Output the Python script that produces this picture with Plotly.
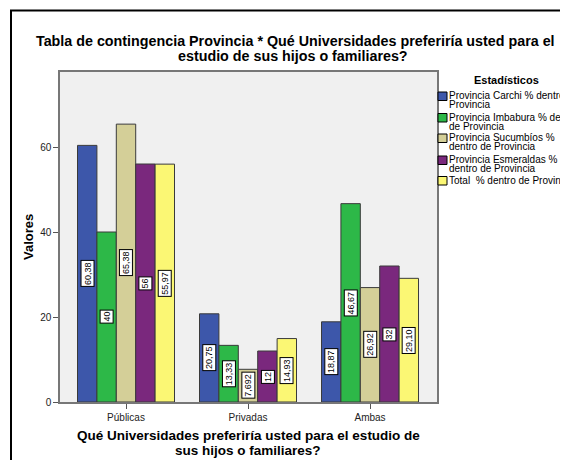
import plotly.graph_objects as go

# ---------------- data ----------------
categories = ["Públicas", "Privadas", "Ambas"]
series_names = [
    "Provincia Carchi % dentro de Provincia",
    "Provincia Imbabura % dentro de Provincia",
    "Provincia Sucumbíos % dentro de Provincia",
    "Provincia Esmeraldas % dentro de Provincia",
    "Total  % dentro de Provincia",
]
carchi = [60.38, 20.75, 18.87]
imbabura = [40, 13.33, 46.67]
sucumbios = [65.38, 7.692, 26.92]
esmeraldas = [56, 12, 32]
total = [55.97, 14.93, 29.10]
carchi_lbl = ["60,38", "20,75", "18,87"]
imbabura_lbl = ["40", "13,33", "46,67"]
sucumbios_lbl = ["65,38", "7,692", "26,92"]
esmeraldas_lbl = ["56", "12", "32"]
total_lbl = ["55,97", "14,93", "29,10"]
legend_lines = [
    ["Provincia Carchi % dentro de", "Provincia"],
    ["Provincia Imbabura % dentro", "de Provincia"],
    ["Provincia Sucumbíos %", "dentro de Provincia"],
    ["Provincia Esmeraldas %", "dentro de Provincia"],
    ["Total  % dentro de Provincia"],
]
y_ticks = [0, 20, 40, 60]

values = [carchi, imbabura, sucumbios, esmeraldas, total]
labels = [carchi_lbl, imbabura_lbl, sucumbios_lbl, esmeraldas_lbl, total_lbl]
colors = ["#3D57AA", "#2DB848", "#D4CF98", "#7A287D", "#FBF774"]

# ---------------- geometry (window pixels) ----------------
WIN_W, WIN_H = 568, 460
OFF = 8  # page body margin
W, H = WIN_W - OFF, WIN_H - OFF
L, R, T, B = 60, 437, 72, 402
FONT = "Liberation Sans, Arial, sans-serif"
bargap = 0.205
nser = len(values)
bw = (1 - bargap) / nser


def px_x(p):
    return (p - L) / (R - L)


def px_y(p):
    return (B - p) / (B - T)


fig = go.Figure()
for name, vals, col in zip(series_names, values, colors):
    fig.add_trace(go.Bar(
        x=categories, y=vals, name=name,
        marker=dict(color=col, line=dict(color="#3a3a3a", width=1)),
        showlegend=False, hoverinfo="skip",
    ))

annotations = []
# value labels
for j, (vals, lbls) in enumerate(zip(values, labels)):
    for i, (v, t) in enumerate(zip(vals, lbls)):
        annotations.append(dict(
            x=i + (j - (nser - 1) / 2) * bw, y=v / 2, xref="x", yref="y",
            text=t, showarrow=False, textangle=-90,
            font=dict(family=FONT, size=9, color="black"),
            bgcolor="white", bordercolor="black", borderwidth=1, borderpad=1,
        ))

# title
for txt, yy, xx in [
    ("Tabla de contingencia Provincia * Qué Universidades preferiría usted para el", 41.5, 295.5),
    ("estudio de sus hijos o familiares?", 56, 293),
]:
    annotations.append(dict(
        x=px_x(xx), y=px_y(yy), xref="paper", yref="paper", text="<b>" + txt + "</b>",
        showarrow=False, xanchor="center", yanchor="middle",
        font=dict(family=FONT, size=14.3, color="black"),
    ))

# x-axis title
for txt, yy in [("Qué Universidades preferiría usted para el estudio de", 435.5),
                ("sus hijos o familiares?", 450)]:
    annotations.append(dict(
        x=px_x(248), y=px_y(yy), xref="paper", yref="paper", text="<b>" + txt + "</b>",
        showarrow=False, xanchor="center", yanchor="middle",
        font=dict(family=FONT, size=13.5, color="black"),
    ))

# y-axis title
annotations.append(dict(
    x=px_x(28), y=px_y(237), xref="paper", yref="paper", text="<b>Valores</b>",
    showarrow=False, textangle=-90, xanchor="center", yanchor="middle",
    font=dict(family=FONT, size=13, color="black"),
))

# legend title
annotations.append(dict(
    x=px_x(506), y=px_y(80), xref="paper", yref="paper", text="<b>Estadísticos</b>",
    showarrow=False, xanchor="center", yanchor="middle",
    font=dict(family=FONT, size=11, color="black"),
))

shapes = []
line1_y = [95.5, 117, 137.5, 159.5, 180]
for lines, col, y1 in zip(legend_lines, colors, line1_y):
    for k, ln in enumerate(lines):
        annotations.append(dict(
            x=px_x(447.5), y=px_y(y1 + k * 9), xref="paper", yref="paper", text=ln,
            showarrow=False, xanchor="left", yanchor="middle",
            font=dict(family=FONT, size=10, color="black"),
        ))
    shapes.append(dict(
        type="rect", xref="paper", yref="paper",
        x0=px_x(438), x1=px_x(447), y0=px_y(y1 + 5), y1=px_y(y1 - 3.5),
        fillcolor=col, line=dict(color="black", width=1),
    ))

# outer frame
shapes.append(dict(
    type="rect", xref="paper", yref="paper",
    x0=px_x(11), x1=px_x(700), y0=px_y(600), y1=px_y(10.5),
    line=dict(color="black", width=2), fillcolor="rgba(0,0,0,0)", layer="below",
))

fig.update_layout(
    width=W, height=H,
    margin=dict(l=L - OFF, r=W - (R - OFF), t=T - OFF, b=H - (B - OFF), pad=0),
    paper_bgcolor="white", plot_bgcolor="#F0F0F0",
    barmode="group", bargap=bargap, bargroupgap=0,
    showlegend=False,
    annotations=annotations, shapes=shapes,
    font=dict(family=FONT, size=10, color="#222"),
)
fig.update_xaxes(
    type="category", range=[-0.541, 2.549],
    showline=True, linecolor="#777", linewidth=1.5, mirror=True,
    ticks="outside", ticklen=5, tickcolor="#555", tickwidth=1,
    tickfont=dict(family=FONT, size=10, color="#222"),
    showgrid=False, zeroline=False, fixedrange=True,
)
fig.update_yaxes(
    range=[0, (B - T) / 4.25], tickvals=y_ticks,
    showline=True, linecolor="#777", linewidth=1.5, mirror=True,
    ticks="outside", ticklen=5, tickcolor="#555", tickwidth=1,
    tickfont=dict(family=FONT, size=10, color="#222"),
    showgrid=False, zeroline=False, fixedrange=True,
)

fig.write_html("out.html")
